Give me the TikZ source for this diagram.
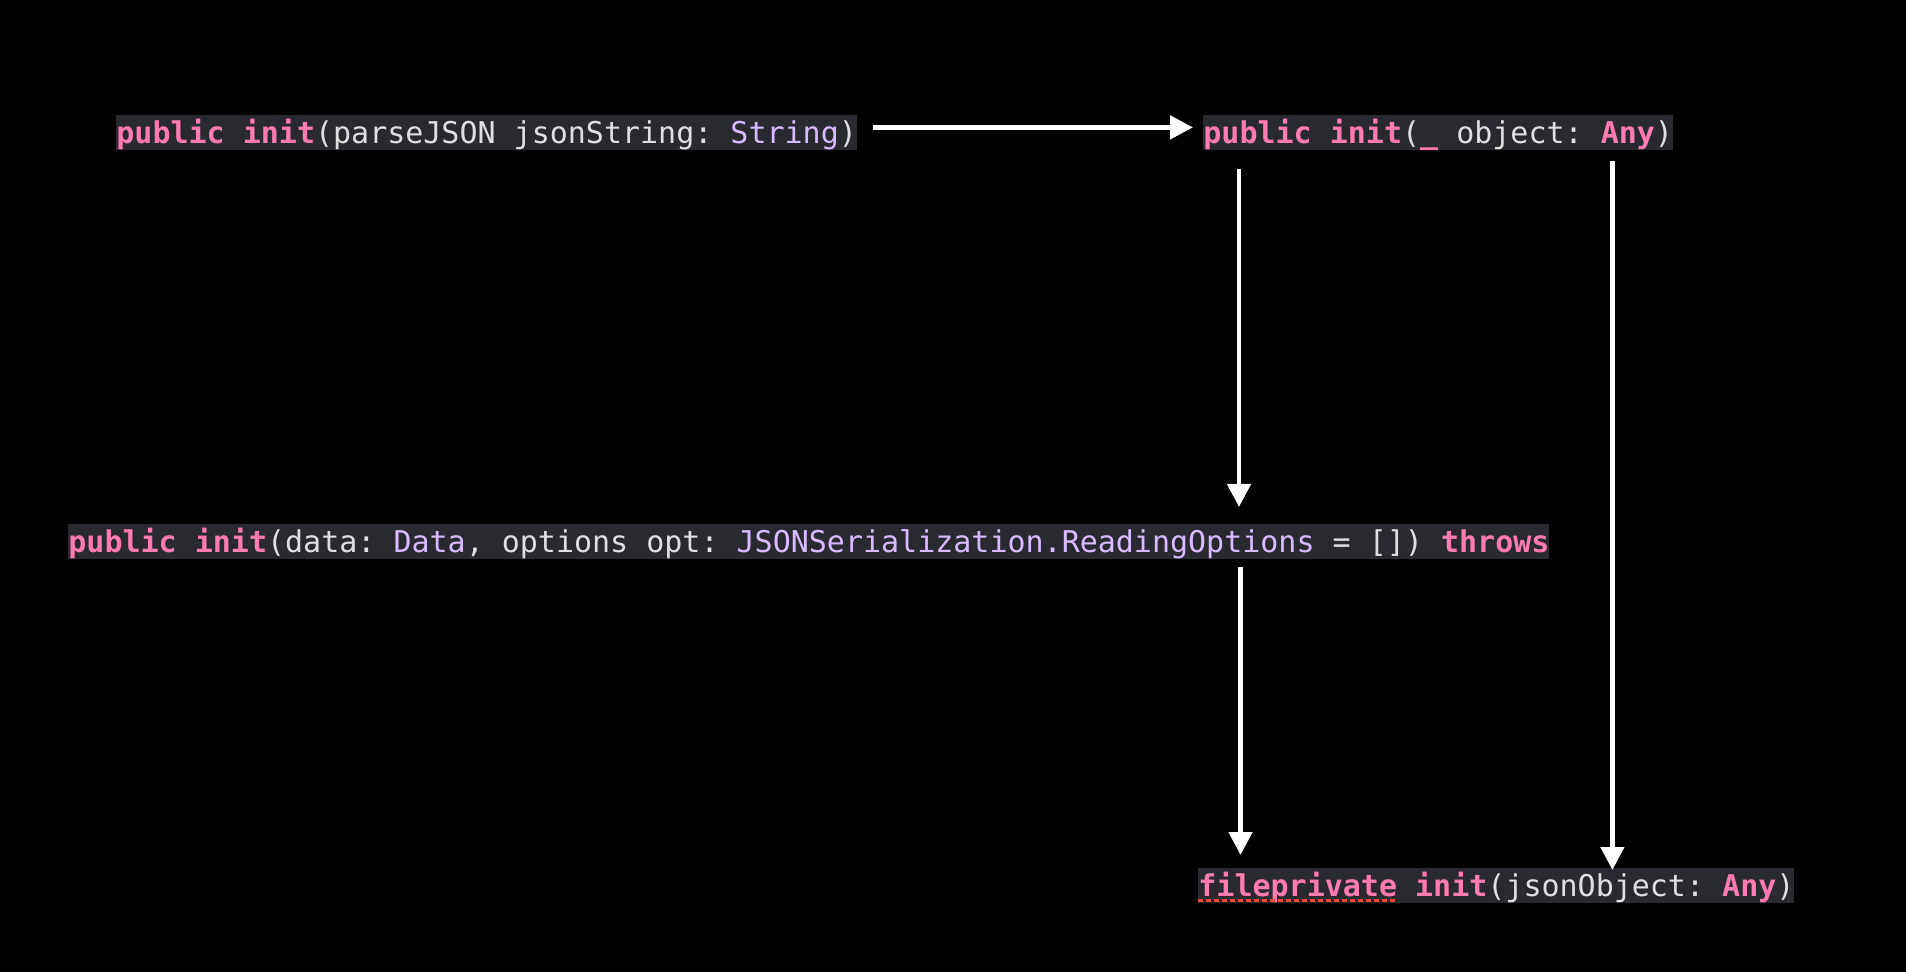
\documentclass[tikz,border=0pt]{standalone}
\usepackage{fontspec}
\newfontfamily\codefont{DejaVu Sans Mono}
\usetikzlibrary{arrows.meta}
\definecolor{kwpink}{HTML}{FF7AB2}
\definecolor{typurple}{HTML}{DABAFF}
\definecolor{plaintext}{HTML}{DFDFE0}
\definecolor{codebg}{HTML}{292A30}
\definecolor{warnred}{HTML}{E8483F}
\newcommand{\kw}[1]{\textcolor{kwpink}{\bfseries #1}}
\newcommand{\ty}[1]{\textcolor{typurple}{#1}}
\begin{document}
\begin{tikzpicture}[x=0.5pt,y=-0.5pt,
    code/.style = {fill=codebg,text=plaintext,font=\codefont\fontsize{15}{17}\selectfont\frenchspacing,
                   inner sep=0pt,text height=14pt,text depth=3.5pt,anchor=north west},
    arrow/.style = {draw=white,line width=2.35pt,-{Triangle[width=11.5pt,length=11.5pt]}}]
    \fill[black] (0,0) rectangle (1906,972);
    \useasboundingbox (0,0) rectangle (1906,972);

    \node[code] (parse) at (116,115) {\kw{public} \kw{init}(parseJSON jsonString: \ty{String})};
    \node[code] (obj) at (1203,115) {\kw{public} \kw{init}(\kw{\_} object: \kw{Any})};
    \node[code] (data) at (68,524) {\kw{public} \kw{init}(data: \ty{Data}, options opt: \ty{JSONSerialization.ReadingOptions} = []) \kw{throws}};
    \node[code] (json) at (1198,868) {\kw{fileprivate} \kw{init}(jsonObject: \kw{Any})};

    % dotted warning line under fileprivate
    \draw[warnred,line width=1.5pt,dash pattern=on 2.5pt off 1.5pt]
        ([yshift=1.5pt]json.south west) -- ([xshift=99.5pt,yshift=1.5pt]json.south west);

    \coordinate (objL) at ([xshift=18pt]obj.south west);
    \coordinate (objR) at ([xshift=-30.5pt]obj.south east);
    \coordinate (jsonL) at ([xshift=21.25pt]json.north west);

    \draw[arrow,shorten <=8pt,shorten >=5pt] ([yshift=2.75pt]parse.east) -- ([yshift=2.75pt]obj.west);
    \draw[arrow,shorten <=9pt,shorten >=8.5pt] (objL) -- (objL |- data.north);
    \draw[arrow,shorten <=5pt,shorten >=-1pt] (objR) -- (objR |- json.north);
    \draw[arrow,shorten <=3.5pt,shorten >=6.5pt] (jsonL |- data.south) -- (jsonL);
\end{tikzpicture}
\end{document}
